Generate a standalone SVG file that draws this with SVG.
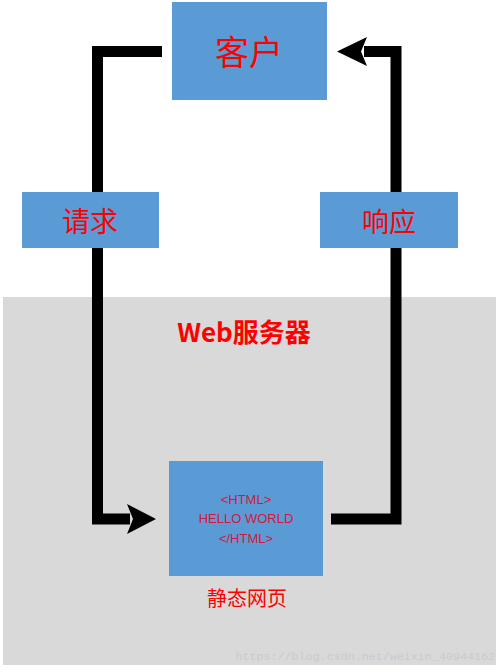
<svg xmlns="http://www.w3.org/2000/svg" width="500" height="672" viewBox="0 0 500 672">
<style>
.box{fill:#5b9bd5;}
.cjk{font-family:"Noto Sans CJK SC","Liberation Sans",sans-serif;fill:#ff0000;text-anchor:middle;dominant-baseline:central;}
.html{font-family:"Liberation Sans",sans-serif;font-size:13px;fill:#d4163c;text-anchor:middle;dominant-baseline:central;}
.conn{fill:none;stroke:#000;stroke-width:11;stroke-linejoin:miter;}
</style>
<rect x="0" y="0" width="500" height="672" fill="#ffffff"/>
<g id="server">
<rect x="3" y="297" width="493" height="368" fill="#d9d9d9"/>
<text x="244" y="330" class="cjk" font-size="26" font-weight="bold">Web服务器</text>
</g>
<g id="connectors">
<path class="conn" d="M162,51.5 H97.5 V519 H130"/>
<polygon points="127,504 156,519 127,534 133,519" fill="#000"/>
<path class="conn" d="M331,519 H396 V51.5 H364"/>
<polygon points="367,37 337,51.5 367,66 361,51.5" fill="#000"/>
</g>
<g id="client">
<rect class="box" x="172" y="2" width="155" height="98"/>
<text x="249" y="50" class="cjk" font-size="34">客户</text>
</g>
<g id="request">
<rect class="box" x="22" y="192" width="137" height="56"/>
<text x="90" y="220" class="cjk" font-size="28">请求</text>
</g>
<g id="response">
<rect class="box" x="320" y="192" width="138" height="56"/>
<text x="389" y="220" class="cjk" font-size="27">响应</text>
</g>
<g id="page">
<rect class="box" x="169" y="461" width="154" height="115"/>
<text x="246" y="499" class="html">&lt;HTML&gt;</text>
<text x="246" y="518" class="html">HELLO WORLD</text>
<text x="246" y="538" class="html">&lt;/HTML&gt;</text>
<text x="247" y="597" class="cjk" font-size="20">静态网页</text>
</g>
<text x="495" y="657" font-family="Liberation Mono, monospace" font-size="11.7" fill="#c9c9d2" text-anchor="end" dominant-baseline="central">https://blog.csdn.net/weixin_40944162</text>
</svg>
